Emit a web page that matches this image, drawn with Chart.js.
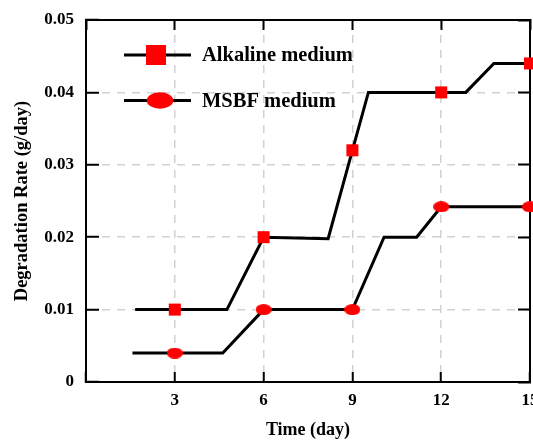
<!DOCTYPE html>
<html>
<head>
<meta charset="utf-8">
<script src="https://cdn.jsdelivr.net/npm/chart.js@4.4.1/dist/chart.umd.min.js"></script>
<style>
  html, body { margin: 0; padding: 0; background: #ffffff; }
  canvas { display: block; }
</style>
</head>
<body>
<canvas id="rateChart" width="533" height="441"></canvas>
<script>
// Degradation rate over time, stepwise lines with markers on the sampling days
const sampleDays = [3, 6, 9, 12, 15];

const alkalineDays  = [1.66, 3, 4.76, 6, 8.18, 9, 9.54, 12, 12.83, 13.78, 15];
const alkalineRates = [0.010, 0.010, 0.010, 0.020, 0.0198, 0.032, 0.040, 0.040, 0.040, 0.044, 0.044];

const msbfDays  = [1.57, 3, 4.62, 6, 9, 10.07, 11.17, 12, 15];
const msbfRates = [0.004, 0.004, 0.004, 0.010, 0.010, 0.020, 0.020, 0.0242, 0.0242];

const seriesNames = ['Alkaline medium', 'MSBF medium'];

const xTickLabels = ['', '3', '6', '9', '12', '15'];
const yTickLabels = ['0', '0.01', '0.02', '0.03', '0.04', '0.05'];

const xTitle = 'Time (day)';
const yTitle = 'Degradation Rate (g/day)';

const FONT = "'Liberation Serif', 'Times New Roman', serif";
const RED = '#ff0000';
const GRID = '#d2d2d2';

function ellipseSprite(w, h) {
  const c = document.createElement('canvas');
  c.width = w; c.height = h;
  const g = c.getContext('2d');
  g.fillStyle = RED;
  g.beginPath();
  g.ellipse(w / 2, h / 2, w / 2, h / 2, 0, 0, Math.PI * 2);
  g.fill();
  return c;
}
const ellipseMark = ellipseSprite(16, 11);

function pairs(xs, ys) {
  return xs.map((x, i) => ({ x: x, y: ys[i] }));
}
function markerRadius(r) {
  return ctx => (ctx.raw && sampleDays.includes(ctx.raw.x)) ? r : 0;
}

// Legend drawn inside the plot: line segment with its marker, then the label
const insideLegend = {
  id: 'insideLegend',
  afterDraw(chart) {
    const ctx = chart.ctx;
    const a = chart.chartArea;
    const x0 = a.left + 38, x1 = a.left + 105;
    const rows = [a.top + 35, a.top + 80.5];
    ctx.save();
    ctx.font = "bold 20.5px " + FONT;
    ctx.textBaseline = 'middle';
    rows.forEach((y, i) => {
      ctx.strokeStyle = '#000';
      ctx.lineWidth = 3;
      ctx.beginPath();
      ctx.moveTo(x0, y);
      ctx.lineTo(x1, y);
      ctx.stroke();
      ctx.fillStyle = RED;
      if (i === 0) {
        ctx.fillRect(x0 + 22, y - 10, 20, 20);
      } else {
        ctx.beginPath();
        ctx.ellipse(x0 + 36, y, 13.3, 8.3, 0, 0, Math.PI * 2);
        ctx.fill();
      }
      ctx.fillStyle = '#000';
      ctx.fillText(seriesNames[i], x1 + 11, y + 1);
    });
    ctx.restore();
  }
};

function hideEdges(maxVal) {
  return ctx => (ctx.tick && (ctx.tick.value === 0 || Math.abs(ctx.tick.value - maxVal) < 1e-9)) ? 'rgba(0,0,0,0)' : GRID;
}

new Chart(document.getElementById('rateChart'), {
  type: 'line',
  data: {
    datasets: [
      {
        label: seriesNames[0],
        data: pairs(alkalineDays, alkalineRates),
        borderColor: '#000',
        borderWidth: 3,
        pointStyle: 'rect',
        pointRadius: markerRadius(8.5),
        pointBackgroundColor: RED,
        pointBorderWidth: 0,
        pointHoverRadius: 0,
        tension: 0,
        clip: false
      },
      {
        label: seriesNames[1],
        data: pairs(msbfDays, msbfRates),
        borderColor: '#000',
        borderWidth: 3,
        pointStyle: ellipseMark,
        pointRadius: markerRadius(8),
        pointBackgroundColor: RED,
        pointBorderWidth: 0,
        pointHoverRadius: 0,
        tension: 0,
        clip: false
      }
    ]
  },
  options: {
    responsive: false,
    animation: false,
    events: [],
    layout: { padding: 0, autoPadding: false },
    plugins: { legend: { display: false }, tooltip: { enabled: false } },
    scales: {
      x: {
        type: 'linear',
        position: 'bottom',
        min: 0, max: 15,
        ticks: {
          stepSize: 3,
          padding: 18,
          color: '#000',
          font: { family: FONT, size: 17, weight: 'bold' },
          callback: (v, i) => xTickLabels[i]
        },
        grid: {
          color: hideEdges(15),
          lineWidth: 1.5,
          tickLength: -10,
          tickColor: '#000',
          tickWidth: 2
        },
        border: { display: true, color: '#000', width: 2, dash: [8, 7] },
        title: {
          display: true,
          text: xTitle,
          color: '#000',
          font: { family: FONT, size: 18, weight: 'bold' },
          padding: { top: 0, bottom: 0 }
        },
        afterFit(s) { s.height = 59; s.paddingLeft = 0; s.paddingRight = 0; }
      },
      xTop: {
        type: 'linear',
        position: 'top',
        min: 0, max: 15,
        ticks: { stepSize: 3, display: false },
        grid: {
          drawOnChartArea: false,
          tickLength: -10,
          tickColor: '#000',
          tickWidth: 2
        },
        border: { display: true, color: '#000', width: 2 },
        afterFit(s) { s.height = 20; s.paddingLeft = 0; s.paddingRight = 0; }
      },
      y: {
        type: 'linear',
        position: 'left',
        min: 0, max: 0.05,
        ticks: {
          stepSize: 0.01,
          padding: 25,
          color: '#000',
          font: { family: FONT, size: 17, weight: 'bold' },
          callback: (v, i) => yTickLabels[i]
        },
        grid: {
          color: hideEdges(0.05),
          lineWidth: 1.5,
          tickLength: -13,
          tickColor: '#000',
          tickWidth: 2
        },
        border: { display: true, color: '#000', width: 2, dash: [8, 7] },
        title: {
          display: true,
          text: yTitle,
          color: '#000',
          font: { family: FONT, size: 18.5, weight: 'bold' },
          padding: { top: 11, bottom: 0 }
        },
        afterFit(s) { s.width = 86; s.paddingTop = 0; s.paddingBottom = 0; }
      },
      yRight: {
        type: 'linear',
        position: 'right',
        min: 0, max: 0.05,
        ticks: { stepSize: 0.01, display: false },
        grid: {
          drawOnChartArea: false,
          tickLength: -12,
          tickColor: '#000',
          tickWidth: 2
        },
        border: { display: true, color: '#000', width: 2 },
        afterFit(s) { s.width = 3; s.paddingTop = 0; s.paddingBottom = 0; }
      }
    }
  },
  plugins: [insideLegend]
});
</script>
</body>
</html>
